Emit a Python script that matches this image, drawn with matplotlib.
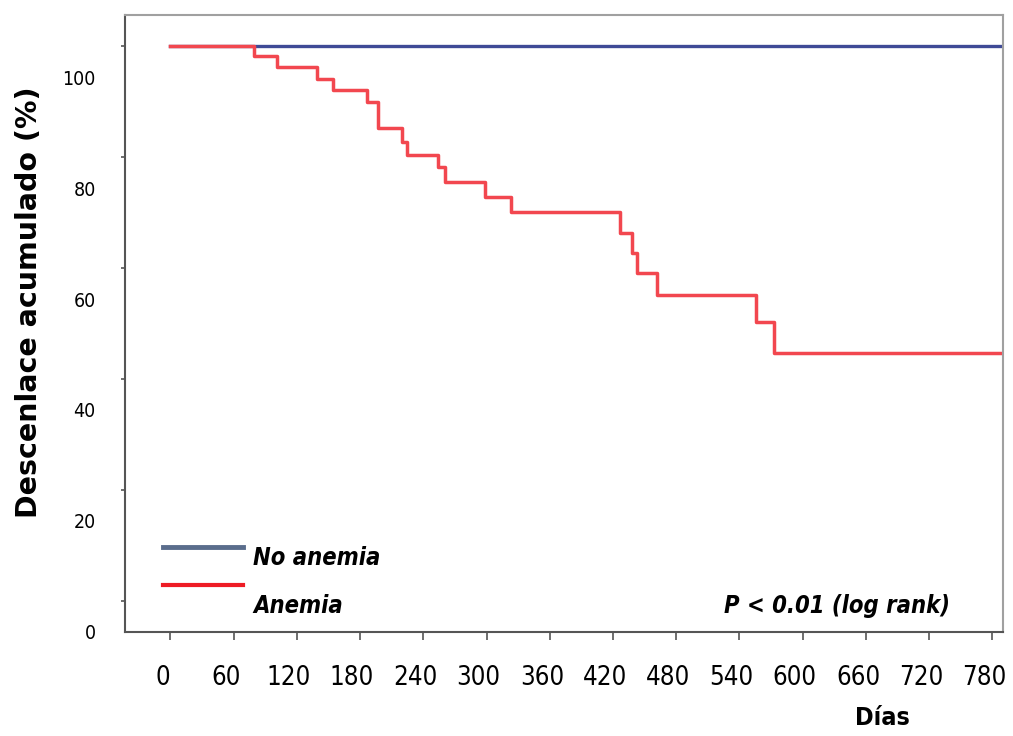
import matplotlib.pyplot as plt
from matplotlib.transforms import ScaledTranslation

# Kaplan-Meier style steps (days, % after the step)
anemia_days = [0, 79, 101, 139, 154, 187, 197, 220, 225, 254, 261, 299, 323,
               427, 438, 443, 462, 556, 573, 790]
anemia_pct = [100, 98.2, 96.2, 94.1, 92.1, 89.9, 85.2, 82.7, 80.4, 78.2, 75.5,
              72.8, 70.1, 66.3, 62.7, 59.1, 55.1, 50.3, 44.7, 44.7]
no_anemia_days = [0, 790]
no_anemia_pct = [100, 100]

x_ticks = list(range(0, 781, 60))
y_ticks = [0, 20, 40, 60, 80, 100]

narrow = dict(family="DejaVu Sans", fontstretch="condensed")

fig = plt.figure(figsize=(10.13, 7.36), dpi=100)
ax = fig.add_axes([0.1234, 0.1413, 0.8667, 0.8383])

ax.step(no_anemia_days, no_anemia_pct, where="post", color="#3f4a96", lw=2.4)
ax.step(anemia_days, anemia_pct, where="post", color="#f2474f", lw=2.5)

ax.set_xlim(-43, 790)
ax.set_ylim(-5.6, 105.6)

ax.set_xticks(x_ticks)
ax.set_xticklabels([str(t) for t in x_ticks], fontsize=18.5, **narrow)
ax.set_yticks(y_ticks)
ax.set_yticklabels([str(t) for t in y_ticks], fontsize=14, **narrow)
ax.tick_params(axis="x", length=6, width=1.2, color="#555555", pad=18)
ax.tick_params(axis="y", length=3, width=1.2, color="#555555", pad=18)

# the y labels sit lower than their tick marks in the reference
shift = ScaledTranslation(0, -0.31, fig.dpi_scale_trans)
for lab in ax.get_yticklabels():
    lab.set_transform(lab.get_transform() + shift)
xshift = ScaledTranslation(-0.08, 0, fig.dpi_scale_trans)
for lab in ax.get_xticklabels():
    lab.set_transform(lab.get_transform() + xshift)

for side in ["left", "bottom"]:
    ax.spines[side].set_color("#555555")
    ax.spines[side].set_linewidth(1.5)
for side in ["top", "right"]:
    ax.spines[side].set_color("#a0a0a0")
    ax.spines[side].set_linewidth(1.5)

fig.text(0.029, 0.59, "Descenlace acumulado (%)", rotation=90, ha="center",
         va="center", fontsize=20.5, fontweight="bold", family="DejaVu Sans")
fig.text(0.871, 0.025, "Días", ha="center", va="center", fontsize=18,
         fontweight="bold", **narrow)

# legend drawn by hand like the original figure
fig.add_artist(plt.Line2D([0.161, 0.240], [1 - 547 / 736] * 2, color="#5a6d8c", lw=3.5))
fig.add_artist(plt.Line2D([0.161, 0.240], [1 - 585 / 736] * 2, color="#ee1c25", lw=3))
fig.text(0.250, 1 - 558 / 736, "No anemia", ha="left", va="center", fontsize=17,
         fontweight="bold", style="italic", **narrow)
fig.text(0.250, 1 - 606 / 736, "Anemia", ha="left", va="center", fontsize=17,
         fontweight="bold", style="italic", **narrow)
fig.text(0.938, 1 - 606 / 736, "P < 0.01 (log rank)", ha="right", va="center",
         fontsize=17, fontweight="bold", style="italic", **narrow)

fig.savefig("out.png", dpi=100)
